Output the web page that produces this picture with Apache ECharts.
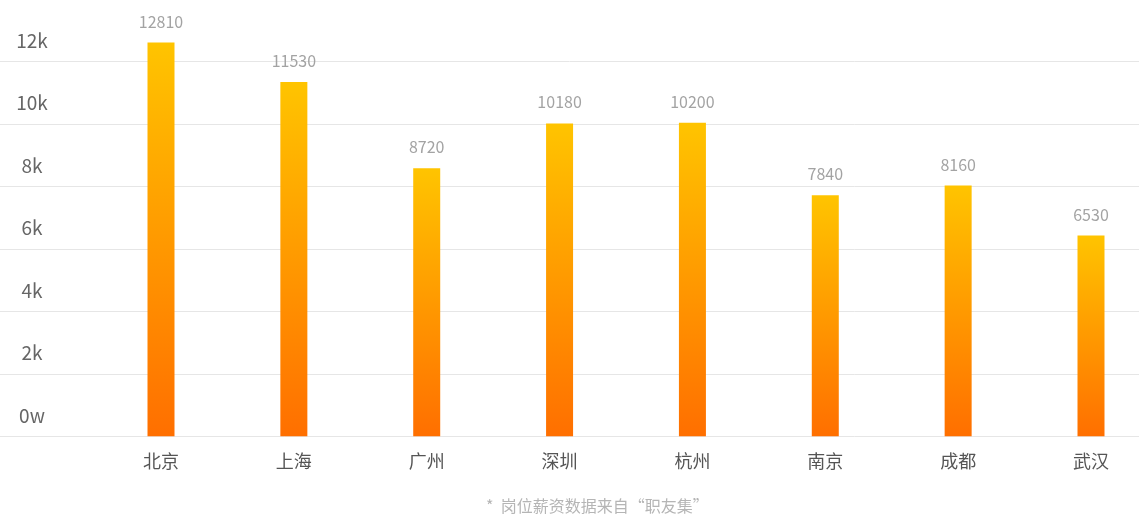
<!DOCTYPE html>
<html>
<head>
<meta charset="utf-8">
<script src="https://cdn.jsdelivr.net/npm/echarts@6/dist/echarts.min.js"></script>
<style>
html,body{margin:0;padding:0;background:#fff;}
#c{width:1139px;height:517px;}
</style>
</head>
<body>
<div id="c"></div>
<script>
const categories = ['北京','上海','广州','深圳','杭州','南京','成都','武汉'];
const salaries = [12810, 11530, 8720, 10180, 10200, 7840, 8160, 6530];
const tickLabels = ['0w','2k','4k','6k','8k','10k','12k'];
const footnote = '*  岗位薪资数据来自“职友集”';

const FONT = '"Noto Sans CJK SC", "Noto Sans", sans-serif';
const chart = echarts.init(document.getElementById('c'));
chart.setOption({
  animation: false,
  backgroundColor: '#fff',
  title: {
    text: footnote,
    left: 481,
    top: 493,
    textStyle: { color: '#b5b5b5', fontSize: 16, fontWeight: 'normal', fontFamily: FONT }
  },
  grid: [
    { left: 161, right: 48, top: 61.3, bottom: 80.7 },
    { left: 0, right: 0, top: 61.3, bottom: 80.7 },
    { left: 0, right: 0, top: 40.3, bottom: 101.7 }
  ],
  xAxis: [
    {
      type: 'category', gridIndex: 0, data: categories, boundaryGap: false,
      axisLine: { show: false }, axisTick: { show: false },
      axisLabel: { color: '#555', fontSize: 18, margin: 16, fontFamily: FONT }
    },
    { type: 'value', gridIndex: 1, show: false, min: 0, max: 1 },
    { type: 'value', gridIndex: 2, show: false, min: 0, max: 1 }
  ],
  yAxis: [
    { type: 'value', gridIndex: 0, min: 0, max: 12200, show: false },
    {
      type: 'value', gridIndex: 1, min: 0, max: 12000, interval: 2000,
      axisLine: { show: false }, axisTick: { show: false },
      axisLabel: { show: false },
      splitLine: { lineStyle: { color: '#e6e6e6', width: 1 } }
    },
    {
      type: 'value', gridIndex: 2, min: 0, max: 12000, interval: 2000,
      axisLine: { show: false }, axisTick: { show: false },
      splitLine: { show: false },
      axisLabel: {
        inside: true, margin: 32, align: 'center',
        color: '#666', fontSize: 19, fontFamily: FONT,
        formatter: function (v) { return tickLabels[Math.round(v / 2000)]; }
      }
    }
  ],
  series: [{
    type: 'bar',
    xAxisIndex: 0, yAxisIndex: 0,
    data: salaries,
    barWidth: 27,
    clip: false,
    itemStyle: {
      color: new echarts.graphic.LinearGradient(0, 0, 0, 1, [
        { offset: 0, color: '#ffc400' },
        { offset: 1, color: '#ff6f00' }
      ])
    },
    label: {
      show: true, position: 'top', distance: 13,
      color: '#a3a3a3', fontSize: 16, fontFamily: FONT
    }
  }]
});
</script>
</body>
</html>
